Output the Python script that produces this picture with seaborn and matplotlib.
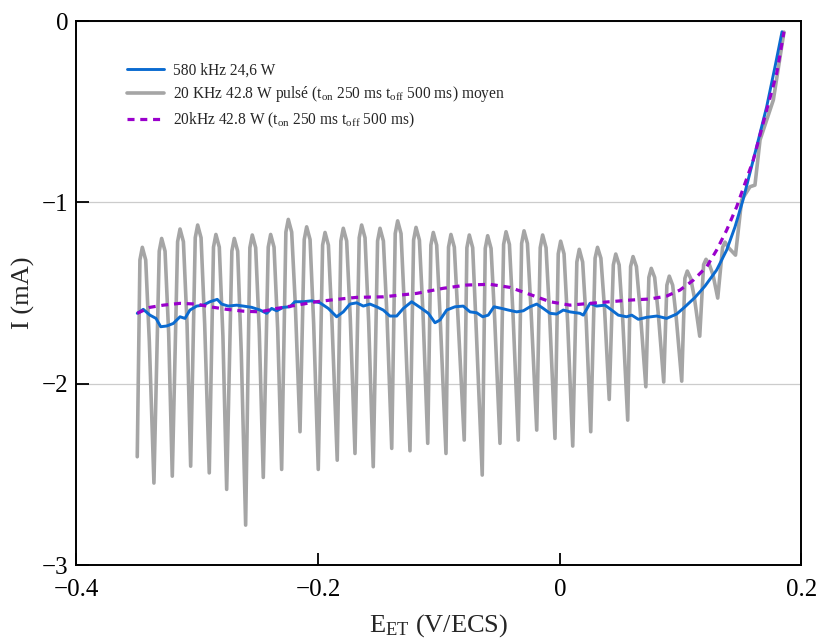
import numpy as np
import pandas as pd
import matplotlib
matplotlib.use("Agg")
import matplotlib.pyplot as plt
import seaborn as sns

# 20 kHz pulsed, averaged, per cycle
# (left shoulder, peak, right shoulder, descent, trough)   V/ECS , mA
gray_x = [-0.3497,
          -0.3475, -0.3455, -0.3427, -0.3397, -0.3359,
          -0.3315, -0.3295, -0.3267, -0.3237, -0.3207,
          -0.3163, -0.3143, -0.3115, -0.3085, -0.3055,
          -0.3017, -0.2997, -0.2969, -0.2939, -0.2901,
          -0.2866, -0.2846, -0.2818, -0.2788, -0.2757,
          -0.2714, -0.2694, -0.2666, -0.2636, -0.2600,
          -0.2565, -0.2545, -0.2517, -0.2487, -0.2454,
          -0.2413, -0.2393, -0.2365, -0.2335, -0.2302,
          -0.2267, -0.2247, -0.2219, -0.2189, -0.2150,
          -0.2115, -0.2095, -0.2067, -0.2037, -0.1999,
          -0.1963, -0.1943, -0.1915, -0.1885, -0.1842,
          -0.1812, -0.1792, -0.1764, -0.1734, -0.1695,
          -0.1660, -0.1640, -0.1612, -0.1582, -0.1544,
          -0.1508, -0.1488, -0.1460, -0.1430, -0.1391,
          -0.1362, -0.1342, -0.1314, -0.1284, -0.1240,
          -0.1210, -0.1190, -0.1162, -0.1132, -0.1093,
          -0.1067, -0.1047, -0.1019, -0.0989, -0.0942,
          -0.0921, -0.0901, -0.0873, -0.0843, -0.0791,
          -0.0769, -0.0749, -0.0721, -0.0691, -0.0642,
          -0.0617, -0.0597, -0.0569, -0.0539, -0.0495,
          -0.0465, -0.0445, -0.0417, -0.0387, -0.0344,
          -0.0316, -0.0296, -0.0268, -0.0238, -0.0191,
          -0.0162, -0.0142, -0.0114, -0.0084, -0.0040,
          -0.0013, 0.0007, 0.0035, 0.0065, 0.0107,
          0.0141, 0.0161, 0.0189, 0.0219, 0.0256,
          0.0292, 0.0312, 0.0340, 0.0370, 0.0409,
          0.0443, 0.0463, 0.0491, 0.0521, 0.0562,
          0.0586, 0.0606, 0.0634, 0.0664, 0.0712,
          0.0737, 0.0757, 0.0785, 0.0815, 0.0860,
          0.0886, 0.0906, 0.0934, 0.0964, 0.1009,
          0.1035, 0.1055, 0.1083, 0.1113, 0.1158,
          0.1190, 0.1210, 0.1238, 0.1268, 0.1307,
          0.1347, 0.1367, 0.1395, 0.1454,
          0.1505, 0.1574, 0.1615, 0.1657, 0.1767, 0.1855]
gray_y = [-2.403,
          -1.318, -1.248, -1.318, -1.768, -2.548,
          -1.269, -1.199, -1.269, -1.723, -2.510,
          -1.217, -1.147, -1.217, -1.670, -2.455,
          -1.195, -1.125, -1.195, -1.672, -2.492,
          -1.247, -1.177, -1.247, -1.739, -2.583,
          -1.269, -1.199, -1.269, -1.831, -2.780,
          -1.250, -1.180, -1.250, -1.715, -2.517,
          -1.247, -1.177, -1.247, -1.695, -2.473,
          -1.164, -1.094, -1.164, -1.562, -2.265,
          -1.205, -1.135, -1.205, -1.670, -2.473,
          -1.236, -1.166, -1.236, -1.668, -2.422,
          -1.213, -1.143, -1.213, -1.640, -2.385,
          -1.195, -1.125, -1.195, -1.658, -2.458,
          -1.213, -1.143, -1.213, -1.629, -2.357,
          -1.172, -1.102, -1.172, -1.609, -2.370,
          -1.208, -1.138, -1.208, -1.614, -2.329,
          -1.236, -1.166, -1.236, -1.654, -2.385,
          -1.247, -1.177, -1.247, -1.631, -2.311,
          -1.250, -1.180, -1.250, -1.710, -2.504,
          -1.254, -1.184, -1.254, -1.642, -2.329,
          -1.232, -1.162, -1.232, -1.622, -2.311,
          -1.227, -1.157, -1.227, -1.597, -2.256,
          -1.250, -1.180, -1.250, -1.629, -2.302,
          -1.284, -1.214, -1.284, -1.666, -2.344,
          -1.329, -1.259, -1.329, -1.661, -2.265,
          -1.308, -1.248, -1.308, -1.584, -2.087,
          -1.345, -1.285, -1.345, -1.651, -2.201,
          -1.354, -1.299, -1.354, -1.586, -2.017,
          -1.414, -1.364, -1.414, -1.615, -1.991,
          -1.457, -1.407, -1.457, -1.639, -1.986,
          -1.419, -1.379, -1.419, -1.523, -1.738,
          -1.344, -1.314, -1.344, -1.400, -1.528,
          -1.249, -1.219, -1.249, -1.291,
          -0.987, -0.914, -0.905, -0.656, -0.436, -0.061]

# 580 kHz 24,6 W
blue_x = [-0.3497, -0.3447, -0.3392, -0.3342, -0.3303, -0.3254, -0.3199, -0.3143,
          -0.3102, -0.3061, -0.3005, -0.2951, -0.2895, -0.2835, -0.2798, -0.2744,
          -0.2674, -0.2620, -0.2550, -0.2481, -0.2426, -0.2385, -0.2343, -0.2289,
          -0.2233, -0.2192, -0.2123, -0.2053, -0.1985, -0.1916, -0.1847, -0.1792,
          -0.1737, -0.1681, -0.1626, -0.1571, -0.1516, -0.1461, -0.1406, -0.1350,
          -0.1295, -0.1226, -0.1157, -0.1088, -0.1033, -0.0992, -0.0936, -0.0868,
          -0.0799, -0.0743, -0.0688, -0.0638, -0.0592, -0.0545, -0.0481, -0.0426,
          -0.0357, -0.0302, -0.0247, -0.0191, -0.0137, -0.0081, -0.0026, 0.0029,
          0.0084, 0.0167, 0.0194, 0.0250, 0.0305, 0.0374, 0.0429, 0.0484,
          0.0553, 0.0595, 0.0650, 0.0719, 0.0802, 0.0884, 0.0967, 0.1036,
          0.1119, 0.1201, 0.1298, 0.1381, 0.1450, 0.1516, 0.1629, 0.1712,
          0.1781, 0.1839]
blue_y = [-1.612, -1.590, -1.622, -1.640, -1.686, -1.682, -1.668, -1.631,
          -1.640, -1.594, -1.572, -1.567, -1.548, -1.535, -1.561, -1.572,
          -1.567, -1.572, -1.579, -1.594, -1.612, -1.585, -1.598, -1.579,
          -1.576, -1.548, -1.548, -1.543, -1.554, -1.585, -1.631, -1.604,
          -1.561, -1.554, -1.572, -1.561, -1.576, -1.594, -1.627, -1.627,
          -1.585, -1.548, -1.579, -1.612, -1.664, -1.649, -1.594, -1.576,
          -1.572, -1.604, -1.609, -1.631, -1.622, -1.576, -1.585, -1.594,
          -1.604, -1.598, -1.576, -1.561, -1.585, -1.612, -1.616, -1.594,
          -1.604, -1.612, -1.622, -1.557, -1.572, -1.567, -1.594, -1.622,
          -1.631, -1.622, -1.645, -1.634, -1.627, -1.640, -1.616, -1.576,
          -1.524, -1.462, -1.373, -1.263, -1.135, -0.987, -0.693, -0.473,
          -0.252, -0.059]

# 20 kHz 42.8 W (ton 250 ms, toff 500 ms)
purple_x = [-0.3497, -0.3392, -0.3282, -0.3143, -0.3005, -0.2895, -0.2757, -0.2620,
            -0.2481, -0.2343, -0.2178, -0.2012, -0.1847, -0.1681, -0.1461, -0.1184,
            -0.0964, -0.0771, -0.0578, -0.0412, -0.0247, -0.0081, 0.0084, 0.0250,
            0.0415, 0.0581, 0.0746, 0.0884, 0.0994, 0.1105, 0.1216, 0.1298,
            0.1381, 0.1464, 0.1601, 0.1712, 0.1795, 0.1855]
purple_y = [-1.612, -1.579, -1.567, -1.557, -1.561, -1.576, -1.590, -1.600,
            -1.604, -1.585, -1.567, -1.548, -1.535, -1.524, -1.521, -1.502,
            -1.474, -1.456, -1.452, -1.469, -1.508, -1.548, -1.567, -1.557,
            -1.548, -1.539, -1.533, -1.517, -1.484, -1.429, -1.355, -1.263,
            -1.153, -1.024, -0.767, -0.491, -0.288, -0.059]

labels = ["580 kHz 24,6 W",
          r"20 KHz 42.8 W pulsé (t$_{\rm on}$ 250 ms t$_{\rm off}$ 500 ms) moyen",
          r"20kHz 42.8 W (t$_{\rm on}$ 250 ms t$_{\rm off}$ 500 ms)"]
xticks = [-0.4, -0.2, 0, 0.2]
xticklabels = ["\u22120.4", "\u22120.2", "0", "0.2"]
yticks = [-3, -2, -1, 0]
yticklabels = ["\u22123", "\u22122", "\u22121", "0"]

sns.set_theme(style="white")
plt.rcParams["font.family"] = ["Liberation Serif", "DejaVu Serif"]
plt.rcParams["mathtext.fontset"] = "custom"
plt.rcParams["mathtext.rm"] = "Liberation Serif"
plt.rcParams["mathtext.it"] = "Liberation Serif:italic"

fig = plt.figure(figsize=(8.17, 6.39), dpi=100)
ax = fig.add_axes([0.0936, 0.1158, 0.8874, 0.8513])

sns.lineplot(x=gray_x, y=gray_y, ax=ax, color="#a5a5a5", lw=2.6,
             sort=False, estimator=None, label=labels[1], zorder=2)
sns.lineplot(x=blue_x, y=blue_y, ax=ax, color="#0b6bd0", lw=2.1,
             sort=False, estimator=None, label=labels[0], zorder=3)
sns.lineplot(x=purple_x, y=purple_y, ax=ax, color="#9a00cc", lw=2.3,
             sort=False, estimator=None, label=labels[2], zorder=4)
ax.lines[2].set_dashes([2.2, 1.8])
for ln in ax.lines:
    ln.set_solid_joinstyle("round")

ax.set_xlim(-0.4, 0.2)
ax.set_ylim(-3, 0)
ax.set_xticks(xticks)
ax.set_xticklabels(xticklabels)
ax.set_yticks(yticks)
ax.set_yticklabels(yticklabels)
ax.tick_params(axis="both", direction="in", length=9, width=1.3, labelsize=18,
               colors="black", bottom=True, left=True)
ax.tick_params(axis="x", pad=10)
ax.tick_params(axis="y", pad=6)
ax.yaxis.grid(True, color="#cccccc", lw=0.9)
ax.xaxis.grid(False)
for s in ax.spines.values():
    s.set_color("black")
    s.set_linewidth(1.4)

ax.set_xlabel(r"E$_{\rm ET}$ (V/ECS)", fontsize=19, labelpad=8)
ax.set_ylabel("I (mA)", fontsize=19, labelpad=5)

h, l = ax.get_legend_handles_labels()
order = [1, 0, 2]
ax.legend([h[i] for i in order], [l[i] for i in order], loc="upper left",
          bbox_to_anchor=(0.05, 0.95), frameon=False, fontsize=11.2,
          handlelength=2.4, handletextpad=0.6, labelspacing=0.4)

fig.savefig("out.png", dpi=100)
